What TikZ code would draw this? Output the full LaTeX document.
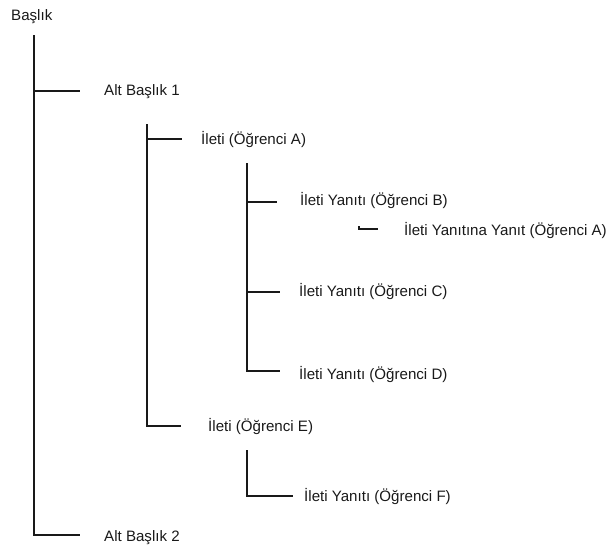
\documentclass[tikz,border=0pt]{standalone}
\usepackage{fontspec}
\setmainfont{Liberation Sans}
\begin{document}
\begin{tikzpicture}[x=1pt,y=-1pt,
  lbl/.style={anchor=west,inner sep=0pt,font=\fontsize{15.1}{18}\selectfont,text=black!90},
  ln/.style={draw=black!90,line width=2.3pt}]
\useasboundingbox (0,0) rectangle (608,547);
% labels
\node[lbl] (root) at (11,17) {Başlık};
\node[lbl] (alt1) at (104,92) {Alt Başlık 1};
\node[lbl] (a) at (201,140) {İleti (Öğrenci A)};
\node[lbl] (b) at (300,201) {İleti Yanıtı (Öğrenci B)};
\node[lbl] (ba) at (404,231) {İleti Yanıtına Yanıt (Öğrenci A)};
\node[lbl] (c) at (299,292) {İleti Yanıtı (Öğrenci C)};
\node[lbl] (d) at (299,375) {İleti Yanıtı (Öğrenci D)};
\node[lbl] (e) at (208,427) {İleti (Öğrenci E)};
\node[lbl] (f) at (304,497) {İleti Yanıtı (Öğrenci F)};
\node[lbl] (alt2) at (104,538) {Alt Başlık 2};
% tree line coordinates
\coordinate (t0) at (34,35);
\coordinate (h1) at (80,91);
\coordinate (h2) at (80,535);
\coordinate (t1) at (147,124);
\coordinate (ha) at (182,139);
\coordinate (he) at (181,426);
\coordinate (t2) at (247,163);
\coordinate (hb) at (277,202);
\coordinate (hc) at (280,292);
\coordinate (hd) at (280,371);
\coordinate (t3) at (359,226);
\coordinate (hba) at (378,229);
\coordinate (t4) at (247,450);
\coordinate (hf) at (293,496);
% connectors
\draw[ln] (t0) |- (h1);
\draw[ln] (t0) |- (h2);
\draw[ln] (t1) |- (ha);
\draw[ln] (t1) |- (he);
\draw[ln] (t2) |- (hb);
\draw[ln] (t2) |- (hc);
\draw[ln] (t2) |- (hd);
\draw[ln] (t3) |- (hba);
\draw[ln] (t4) |- (hf);
\end{tikzpicture}
\end{document}
